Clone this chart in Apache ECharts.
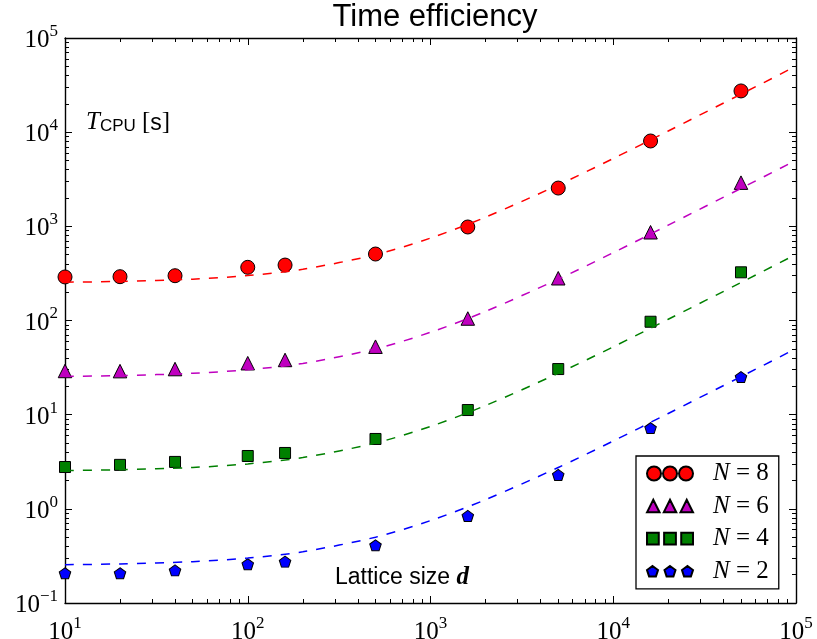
<!DOCTYPE html>
<html>
<head>
<meta charset="utf-8">
<script src="https://cdn.jsdelivr.net/npm/echarts@6/dist/echarts.min.js"></script>
<style>html,body{margin:0;padding:0;background:#fff}#c{width:817px;height:639px}</style>
</head>
<body>
<div id="c"></div>
<script>
// ---- data ----
const latticeSizes = [10, 20, 40, 100, 160, 500, 1600, 5000, 16000, 50000];
const timeN8 = [290, 292, 299, 367, 388, 508, 984, 2550, 8060, 27400];
const timeN6 = [29.1, 29.0, 30.5, 35.2, 38.1, 52.7, 105, 281, 865, 2910];
const timeN4 = [2.78, 2.93, 3.15, 3.64, 3.92, 5.52, 11.2, 30.5, 97, 325];
const timeN2 = [0.207, 0.207, 0.222, 0.258, 0.275, 0.41, 0.84, 2.29, 7.2, 25.1];

const fitSizes = [10, 20, 50, 100, 200, 500, 1000, 2000, 5000, 10000, 20000, 50000, 100000];
const fitN8 = [255, 260, 275, 300, 350, 500, 750, 1250, 2750, 5250, 10300, 25300, 50300];
const fitN6 = [25.5, 26, 27.5, 30, 35, 50, 75, 125, 275, 525, 1030, 2530, 5030];
const fitN4 = [2.55, 2.6, 2.75, 3.0, 3.5, 5.0, 7.5, 12.5, 27.5, 52.5, 103, 253, 503];
const fitN2 = [0.255, 0.26, 0.275, 0.30, 0.35, 0.50, 0.75, 1.25, 2.75, 5.25, 10.3, 25.3, 50.3];

const seriesNames = ['N=8', 'N=6', 'N=4', 'N=2'];
const legendLabels = ['8', '6', '4', '2'];
const xTickValues = [10, 100, 1000, 10000, 100000];
const yTickValues = [0.1, 1, 10, 100, 1000, 10000, 100000];

// ---- helpers ----
function minorTicks(majors) {
  const out = [];
  for (let i = 0; i < majors.length - 1; i++) {
    for (let k = 2; k <= 9; k++) out.push(+(majors[i] * k).toPrecision(6));
  }
  return out;
}
const xMinor = minorTicks(xTickValues);
const yMinor = minorTicks(yTickValues);
function pairs(xs, ys) { return xs.map((x, i) => [x, ys[i]]); }
function expLabel(v) {
  const e = Math.round(Math.log10(v));
  return '{b|10}{s|' + (e < 0 ? '\u2212' + (-e) : e) + '}';
}
function pentPath(cx, cy, r) {
  let s = '';
  for (let i = 0; i < 5; i++) {
    const a = (-90 + 72 * i) * Math.PI / 180;
    s += (i ? 'L' : 'M') + (cx + r * Math.cos(a)).toFixed(3) + ',' + (cy + r * Math.sin(a)).toFixed(3);
  }
  return s + 'Z';
}
const pentSymbol = 'path://' + pentPath(0, 0, 1);
const legCircles = 'path://M0,7A7,7 0 1,1 14,7A7,7 0 1,1 0,7Z M16,7A7,7 0 1,1 30,7A7,7 0 1,1 16,7Z M32,7A7,7 0 1,1 46,7A7,7 0 1,1 32,7Z';
const legTriangles = 'path://M0,12L6,0L12,12Z M16,12L22,0L28,12Z M32,12L38,0L44,12Z';
const legSquares = 'path://M0,0L11,0L11,11L0,11Z M16,0L27,0L27,11L16,11Z M32,0L43,0L43,11L32,11Z';
const legPents = 'path://' + pentPath(5.3, 5.3, 5.3) + pentPath(21.3, 5.3, 5.3) + pentPath(37.3, 5.3, 5.3);

const SERIF = 'Liberation Serif';
const SANS = 'Liberation Sans';
const labelRich = {
  b: { fontFamily: SERIF, fontSize: 25, lineHeight: 30, color: '#000', verticalAlign: 'bottom' },
  s: { fontFamily: SERIF, fontSize: 17, lineHeight: 17, color: '#000', verticalAlign: 'top' }
};
const lineStyleAxis = { color: '#000', width: 1.4 };

function makeAxis(type, pos, min, max, ticks, isMajor, showLine, showLabel) {
  return {
    type: 'log', logBase: 10, min: min, max: max, position: pos,
    axisLine: { show: showLine, onZero: false, lineStyle: lineStyleAxis },
    axisTick: { show: true, inside: true, length: isMajor ? 7 : 4, customValues: ticks, lineStyle: { color: '#000', width: 1 } },
    axisLabel: showLabel ? {
      show: true, customValues: ticks, formatter: expLabel, margin: type === 'x' ? 12 : 7,
      rich: labelRich, color: '#000'
    } : { show: false },
    splitLine: { show: false },
    minorTick: { show: false }
  };
}

const colors = ['#ff0000', '#bf00bf', '#008000', '#0000ff'];
const scatterData = [timeN8, timeN6, timeN4, timeN2];
const fitData = [fitN8, fitN6, fitN4, fitN2];
const symbols = ['circle', 'triangle', 'rect', pentSymbol];
const sizes = [14, 13.5, 11, [11.5, 11]];
const legIcons = [legCircles, legTriangles, legSquares, legPents];

const series = [];
for (let i = 0; i < 4; i++) {
  series.push({
    name: seriesNames[i], type: 'scatter', xAxisIndex: 0, yAxisIndex: 0,
    data: pairs(latticeSizes, scatterData[i]),
    symbol: symbols[i], symbolSize: sizes[i],
    itemStyle: { color: colors[i], borderColor: '#000', borderWidth: 1, opacity: 1 },
    emphasis: { disabled: true }, z: 2
  });
}
for (let i = 0; i < 4; i++) {
  series.push({
    name: 'fit' + i, type: 'line', xAxisIndex: 0, yAxisIndex: 0,
    data: pairs(fitSizes, fitData[i]), smooth: 0.3, showSymbol: false, symbol: 'none',
    lineStyle: { color: colors[i], width: 1.5, type: [9, 9] },
    emphasis: { disabled: true }, z: 3, silent: true
  });
}

const chart = echarts.init(document.getElementById('c'), null, { renderer: 'canvas' });
chart.setOption({
  animation: false,
  backgroundColor: '#fff',
  title: {
    text: 'Time efficiency', left: 430, top: -3, textAlign: 'center',
    textStyle: { fontFamily: SANS, fontSize: 31, fontWeight: 'normal', color: '#000' }
  },
  grid: { left: 65, right: 21, top: 38, bottom: 36, containLabel: false, outerBoundsMode: 'none' },
  xAxis: [
    makeAxis('x', 'bottom', 10, 100000, xTickValues, true, true, true),
    makeAxis('x', 'bottom', 10, 100000, xMinor, false, false, false),
    makeAxis('x', 'top', 10, 100000, xTickValues, true, true, false),
    makeAxis('x', 'top', 10, 100000, xMinor, false, false, false)
  ],
  yAxis: [
    makeAxis('y', 'left', 0.1, 100000, yTickValues, true, true, true),
    makeAxis('y', 'left', 0.1, 100000, yMinor, false, false, false),
    makeAxis('y', 'right', 0.1, 100000, yTickValues, true, true, false),
    makeAxis('y', 'right', 0.1, 100000, yMinor, false, false, false)
  ],
  legend: {
    orient: 'vertical', left: 636, top: 456,
    padding: [5, 10, 5, 10], itemGap: 7.6, itemWidth: 46, itemHeight: 14,
    borderColor: '#000', borderWidth: 1.3, backgroundColor: '#fff',
    selectedMode: false,
    data: seriesNames.map((n, i) => ({ name: n, icon: legIcons[i] })),
    formatter: function (name) {
      const i = seriesNames.indexOf(name);
      return '{i|N}{t| = ' + legendLabels[i] + '}';
    },
    textStyle: {
      rich: {
        i: { fontFamily: SERIF, fontStyle: 'italic', fontSize: 25, lineHeight: 26, color: '#000', padding: [0, 0, 0, 15] },
        t: { fontFamily: SERIF, fontSize: 25, lineHeight: 26, color: '#000' }
      }
    }
  },
  graphic: [
    {
      type: 'text', left: 86, top: 110, silent: true,
      style: {
        text: '{t|T}{c|CPU}{b| [}{s|s}{b|]}',
        rich: {
          t: { fontFamily: SERIF, fontStyle: 'italic', fontSize: 25, lineHeight: 30, verticalAlign: 'bottom', fill: '#000' },
          c: { fontFamily: SANS, fontSize: 17, lineHeight: 22, verticalAlign: 'bottom', fill: '#000' },
          b: { fontFamily: SERIF, fontSize: 25, lineHeight: 30, verticalAlign: 'bottom', fill: '#000' },
          s: { fontFamily: SANS, fontSize: 23, lineHeight: 30, verticalAlign: 'bottom', fill: '#000' }
        }
      }
    },
    {
      type: 'text', left: 335, top: 565, silent: true,
      style: {
        text: '{a|Lattice size }{d|d}',
        rich: {
          a: { fontFamily: SANS, fontSize: 23, lineHeight: 28, fill: '#000' },
          d: { fontFamily: SERIF, fontStyle: 'italic', fontWeight: 'bold', fontSize: 25, lineHeight: 28, fill: '#000' }
        }
      }
    }
  ],
  series: series
});
</script>
</body>
</html>
